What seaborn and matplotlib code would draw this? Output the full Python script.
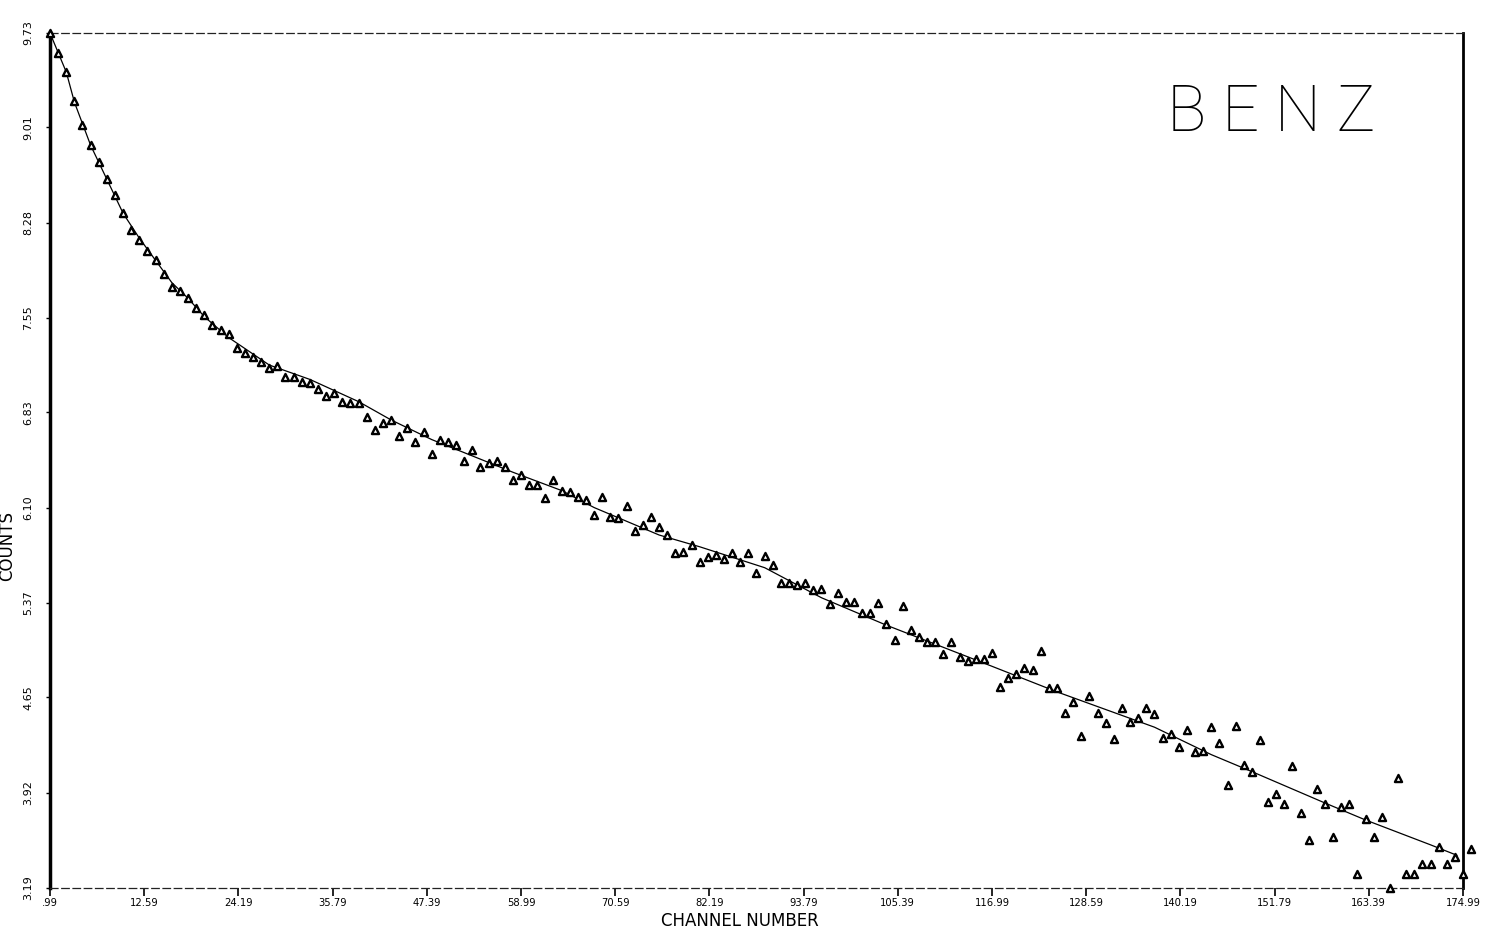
import numpy as np
import pandas as pd
import matplotlib
matplotlib.use("Agg")
import matplotlib.pyplot as plt
import seaborn as sns

# measured counts, one per channel (0.99, 1.99, ... 175.99)
channel = np.arange(176) + 0.99
counts = [
    9.73, 9.58, 9.43, 9.21, 9.03, 8.87, 8.74, 8.61, 8.49, 8.35,
    8.22, 8.15, 8.06, 7.99, 7.89, 7.79, 7.76, 7.70, 7.63, 7.57,
    7.50, 7.46, 7.43, 7.32, 7.28, 7.25, 7.21, 7.17, 7.18, 7.10,
    7.10, 7.06, 7.05, 7.01, 6.95, 6.98, 6.91, 6.90, 6.90, 6.79,
    6.69, 6.75, 6.77, 6.65, 6.71, 6.60, 6.68, 6.51, 6.62, 6.60,
    6.58, 6.46, 6.54, 6.41, 6.44, 6.46, 6.41, 6.31, 6.35, 6.27,
    6.27, 6.17, 6.31, 6.23, 6.22, 6.18, 6.16, 6.04, 6.18, 6.03,
    6.02, 6.11, 5.92, 5.97, 6.03, 5.95, 5.89, 5.75, 5.76, 5.81,
    5.68, 5.72, 5.74, 5.71, 5.75, 5.68, 5.75, 5.60, 5.73, 5.66,
    5.52, 5.52, 5.51, 5.52, 5.47, 5.48, 5.36, 5.45, 5.38, 5.38,
    5.29, 5.29, 5.37, 5.21, 5.09, 5.35, 5.16, 5.11, 5.07, 5.07,
    4.98, 5.07, 4.96, 4.93, 4.94, 4.94, 4.99, 4.73, 4.80, 4.83,
    4.87, 4.86, 5.00, 4.72, 4.72, 4.53, 4.61, 4.35, 4.66, 4.53,
    4.45, 4.33, 4.57, 4.46, 4.49, 4.57, 4.52, 4.34, 4.37, 4.27,
    4.40, 4.23, 4.24, 4.42, 4.30, 3.98, 4.43, 4.13, 4.08, 4.32,
    3.85, 3.91, 3.83, 4.12, 3.76, 3.56, 3.95, 3.83, 3.58, 3.81,
    3.83, 3.30, 3.72, 3.58, 3.73, 3.19, 4.03, 3.30, 3.30, 3.37,
    3.37, 3.50, 3.37, 3.43, 3.30, 3.49,
]

# fitted curve
fit_channel = [0.99, 3, 4, 6, 8, 10, 12, 14, 16, 18, 20, 23, 28, 33, 39, 43, 48,
               58, 64, 68, 76, 81, 89, 96, 104, 116, 125, 137, 144, 149, 158,
               163, 171, 174.25]
fit_counts = [9.73, 9.43, 9.20, 8.87, 8.61, 8.35, 8.16, 7.99, 7.82, 7.70, 7.56,
              7.40, 7.19, 7.08, 6.91, 6.77, 6.62, 6.37, 6.23, 6.10, 5.89, 5.80,
              5.64, 5.41, 5.20, 4.91, 4.69, 4.42, 4.21, 4.08, 3.84, 3.71, 3.52,
              3.44]

x_ticks = [0.99, 12.59, 24.19, 35.79, 47.39, 58.99, 70.59, 82.19, 93.79,
           105.39, 116.99, 128.59, 140.19, 151.79, 163.39, 174.99]
x_labels = [".99", "12.59", "24.19", "35.79", "47.39", "58.99", "70.59", "82.19",
            "93.79", "105.39", "116.99", "128.59", "140.19", "151.79", "163.39",
            "174.99"]
y_ticks = [3.19, 3.92, 4.65, 5.37, 6.10, 6.83, 7.55, 8.28, 9.01, 9.73]
y_labels = ["3.19", "3.92", "4.65", "5.37", "6.10", "6.83", "7.55", "8.28",
            "9.01", "9.73"]

pts = pd.DataFrame({"channel": channel, "counts": counts})
fit = pd.DataFrame({"channel": fit_channel, "counts": fit_counts})

sns.set_style("white")
plt.rcParams["font.family"] = ["DejaVu Sans"]

fig = plt.figure(figsize=(15.04, 9.34), dpi=100)
ax = fig.add_axes([50 / 1504, 46 / 934, 1413 / 1504, 855 / 934])

sns.lineplot(data=fit, x="channel", y="counts", ax=ax, color="black",
             linewidth=0.9, sort=False, estimator=None)
sns.scatterplot(data=pts, x="channel", y="counts", ax=ax, marker="^", s=26,
                facecolor="white", edgecolor="black", linewidth=1.7,
                clip_on=False, zorder=3)

ax.set_xlim(0.99, 174.99)
ax.set_ylim(3.19, 9.73)

ax.set_xticks(x_ticks)
ax.set_xticklabels(x_labels, fontsize=8, fontstretch="condensed")
ax.set_yticks(y_ticks)
ax.set_yticklabels(y_labels, fontsize=8, rotation=90, va="center")
ax.tick_params(axis="x", direction="out", length=6, width=1.2, pad=1,
               bottom=True, colors="black")
ax.tick_params(axis="y", direction="out", length=3, width=1, pad=9,
               left=True, colors="black")

ax.set_xlabel("CHANNEL NUMBER", fontsize=12, color="black")
ax.xaxis.set_label_coords(0.488, -0.028)
ax.set_ylabel("COUNTS", fontsize=12, color="black")
ax.yaxis.set_label_coords(-0.024, 0.40)

for side in ["left", "right"]:
    ax.spines[side].set_visible(True)
    ax.spines[side].set_color("black")
ax.spines["left"].set_linewidth(2.5)
ax.spines["right"].set_linewidth(2.0)
for side in ["top", "bottom"]:
    ax.spines[side].set_visible(True)
    ax.spines[side].set_color("#222222")
    ax.spines[side].set_linewidth(0.9)
    ax.spines[side].set_linestyle((0, (6, 3)))

ax.text(0.938, 0.907, "B E N Z", transform=ax.transAxes, ha="right",
        va="center", fontsize=47, fontweight=100,
        family=["Roboto", "DejaVu Sans"], color="black")

fig.savefig("out.png", dpi=100)
